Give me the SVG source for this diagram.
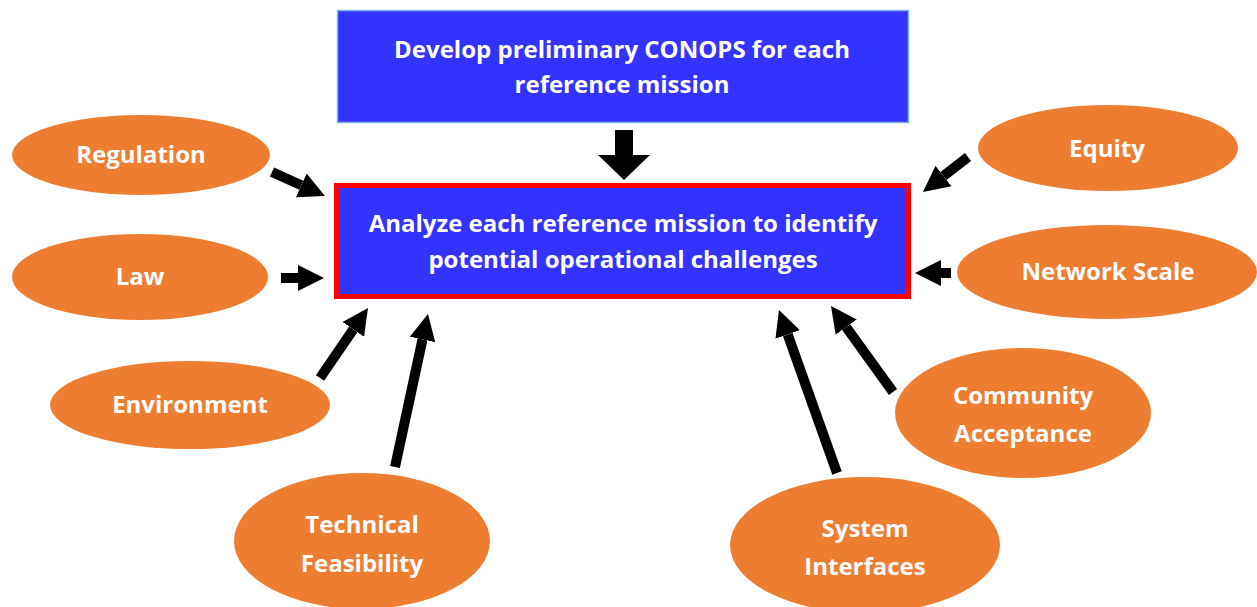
<svg xmlns="http://www.w3.org/2000/svg" width="1257" height="607" viewBox="0 0 1257 607">
<defs>
<marker id="head" viewBox="0 0 10 10" markerWidth="2.6" markerHeight="2.8" refX="0" refY="5" orient="auto" markerUnits="strokeWidth">
<path d="M0,0 L10,5 L0,10 z" fill="#000"/>
</marker>
</defs>
<style>
.ell{fill:#ED7D31;}
.t{font-family:"Open Sans","Liberation Sans",sans-serif;font-weight:bold;fill:#fff;text-anchor:middle;font-size:24px;}
.arr{stroke:#000;stroke-width:10;fill:none;marker-end:url(#head);}
</style>
<rect width="1257" height="607" fill="#fff"/>
<g id="conops">
<rect x="337.5" y="10.5" width="571" height="112" fill="#3333FF" stroke="#7FB2E5" stroke-width="1.5"/>
<text class="t" x="622" y="58">Develop preliminary CONOPS for each</text>
<text class="t" x="622" y="93">reference mission</text>
</g>
<g id="analyze">
<rect x="336.5" y="185.5" width="572" height="111" fill="#3333FF" stroke="#FF0000" stroke-width="5"/>
<text class="t" x="623" y="232">Analyze each reference mission to identify</text>
<text class="t" x="623" y="268">potential operational challenges</text>
</g>
<g id="regulation"><ellipse class="ell" cx="141" cy="155" rx="129" ry="40"/><text class="t" x="141" y="163">Regulation</text></g>
<g id="law"><ellipse class="ell" cx="140" cy="277" rx="128" ry="43"/><text class="t" x="140" y="285">Law</text></g>
<g id="environment"><ellipse class="ell" cx="190" cy="405" rx="140" ry="44"/><text class="t" x="190" y="413">Environment</text></g>
<g id="technical"><ellipse class="ell" cx="362" cy="541" rx="128" ry="68"/><text class="t" x="362" y="533">Technical</text><text class="t" x="362" y="572">Feasibility</text></g>
<g id="system"><ellipse class="ell" cx="865" cy="545" rx="135" ry="68"/><text class="t" x="865" y="537">System</text><text class="t" x="865" y="575">Interfaces</text></g>
<g id="community"><ellipse class="ell" cx="1023" cy="413" rx="128" ry="65"/><text class="t" x="1023" y="404">Community</text><text class="t" x="1023" y="442">Acceptance</text></g>
<g id="network"><ellipse class="ell" cx="1107" cy="272" rx="150" ry="47"/><text class="t" x="1108" y="280">Network Scale</text></g>
<g id="equity"><ellipse class="ell" cx="1108" cy="148" rx="130" ry="43"/><text class="t" x="1107" y="157">Equity</text></g>
<g id="connectors">
<polygon points="615,130 633,130 633,155 650,155 624,180 598,155 615,155" fill="#000"/>
<line class="arr" x1="272" y1="172" x2="301.3" y2="185.3"/>
<line class="arr" x1="281" y1="278" x2="298" y2="278"/>
<line class="arr" x1="968" y1="157" x2="943.5" y2="176"/>
<line class="arr" x1="951" y1="273" x2="941" y2="273"/>
<line class="arr" x1="320" y1="378" x2="353.3" y2="329.4"/>
<line class="arr" x1="395" y1="467" x2="422.5" y2="339.4"/>
<line class="arr" x1="837" y1="473" x2="787.7" y2="334.5"/>
<line class="arr" x1="893" y1="392" x2="846.2" y2="327.1"/>
</g>
</svg>
